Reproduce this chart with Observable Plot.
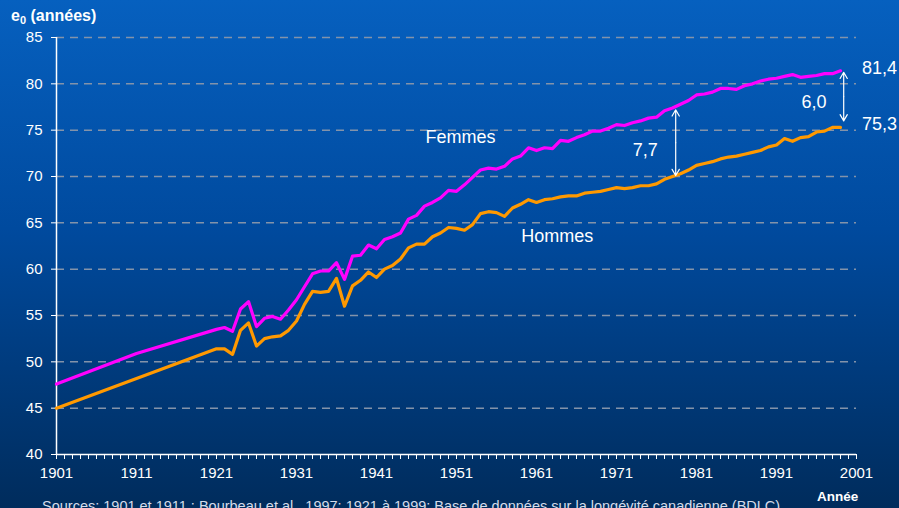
<!DOCTYPE html>
<html><head><meta charset="utf-8">
<script src="https://cdn.jsdelivr.net/npm/d3@7"></script>
<script src="https://cdn.jsdelivr.net/npm/@observablehq/plot@0.6"></script>
<style>
html,body{margin:0;padding:0;}
body{width:899px;height:508px;overflow:hidden;background:linear-gradient(to bottom,#0660bf 0%,#004a9e 45%,#002c5c 100%);font-family:"Liberation Sans",Arial,sans-serif;position:relative;}
#chart{position:absolute;left:0;top:0;}
.t{position:absolute;color:#fff;white-space:nowrap;line-height:1;}
</style></head><body>
<div id="chart"></div>
<div class="t" style="left:11px;top:8px;font-weight:bold;font-size:16px;">e<span style="font-size:11px;position:relative;top:3px">0</span> (années)</div>
<div class="t" style="left:817px;top:490px;font-weight:bold;font-size:13.5px;">Année</div>
<div class="t" style="left:42px;top:499px;font-size:14.5px;color:#d4dcea;">Sources: 1901 et 1911 : Bourbeau et al., 1997; 1921 à 1999: Base de données sur la longévité canadienne (BDLC).</div>
<script>
const years = [1901, 1911, ...d3.range(1921, 2000)];
const female = [47.6, 50.9,
 53.5,53.7,53.3,55.7,56.5,53.8,54.7,54.9,54.6,55.6,
 56.7,58.1,59.5,59.8,59.8,60.7,58.9,61.4,61.5,62.6,
 62.2,63.2,63.5,63.9,65.4,65.8,66.8,67.2,67.7,68.5,
 68.4,69.1,69.9,70.7,70.9,70.8,71.1,71.9,72.2,73.1,
 72.8,73.1,73.0,73.9,73.8,74.2,74.5,74.9,74.9,75.2,
 75.6,75.5,75.8,76.0,76.3,76.4,77.1,77.4,77.8,78.2,
 78.8,78.9,79.1,79.5,79.5,79.4,79.8,80.0,80.3,80.5,
 80.6,80.8,81.0,80.7,80.8,80.9,81.1,81.1,81.4];
const male = [45.0, 48.2,
 51.4,51.4,50.8,53.4,54.2,51.7,52.5,52.7,52.8,53.4,
 54.4,56.2,57.6,57.5,57.6,59.0,56.0,58.2,58.8,59.7,
 59.1,60.0,60.4,61.1,62.3,62.7,62.7,63.5,63.9,64.5,
 64.4,64.2,64.8,66.0,66.2,66.1,65.7,66.6,67.0,67.5,
 67.2,67.5,67.6,67.8,67.9,67.9,68.2,68.3,68.4,68.6,
 68.8,68.7,68.8,69.0,69.0,69.2,69.7,70.0,70.3,70.7,
 71.2,71.4,71.6,71.9,72.1,72.2,72.4,72.6,72.8,73.2,
 73.4,74.1,73.8,74.2,74.3,74.8,74.9,75.3,75.3];
const yTicks = d3.range(40, 86, 5);
const xLabelTicks = d3.range(1901, 2002, 10);
const xMinorTicks = d3.range(1901, 2002, 1);
// annotations
const seriesLabels = [
 {year: 1951.5, value: 74.2, text: "Femmes"},
 {year: 1963.6, value: 63.5, text: "Hommes"},
 {year: 1974.6, value: 72.8, text: "7,7"},
 {year: 1995.7, value: 78.0, text: "6,0"}
];
const endLabels = [
 {year: 2001.7, value: 81.7, text: "81,4"},
 {year: 2001.7, value: 75.6, text: "75,3"}
];
const gaps = [
 {year: 1978.4, top: 77.2, bottom: 70.1},
 {year: 1999.4, top: 81.25, bottom: 76.0}
];

const data = years.map((y, i) => ({year: y, f: female[i], m: male[i]}));
const halves = gaps.flatMap(g => {
 const mid = (g.top + g.bottom) / 2;
 return [{year: g.year, from: mid, to: g.top}, {year: g.year, from: mid, to: g.bottom}];
});

const chart = Plot.plot({
 width: 899, height: 508,
 marginTop: 37, marginBottom: 54, marginLeft: 56, marginRight: 43,
 x: {type: "linear", domain: [1901, 2001]},
 y: {domain: [40, 85]},
 style: {background: "transparent", color: "white", fontFamily: "'Liberation Sans', Arial, sans-serif", fontSize: "15px", overflow: "visible"},
 marks: [
  Plot.gridY(yTicks.filter(d => d > 40), {stroke: "#8393aa", strokeOpacity: 1, strokeWidth: 1.5, strokeDasharray: "8,6"}),
  Plot.axisY(yTicks, {tickSize: 5, tickPadding: 9, label: null, tickFormat: d => String(d), stroke: "white", strokeOpacity: 1}),
  Plot.axisX(xMinorTicks, {tickSize: 5, tickFormat: () => "", label: null, stroke: "white", strokeOpacity: 1}),
  Plot.axisX(xLabelTicks, {tickSize: 0, tickPadding: 13, tickFormat: d => String(d), label: null}),
  Plot.ruleX([1901], {stroke: "white", strokeWidth: 1.5}),
  Plot.ruleY([40], {stroke: "white", strokeWidth: 1.5}),
  Plot.line(data, {x: "year", y: "f", stroke: "#ff00ff", strokeWidth: 3.2}),
  Plot.line(data, {x: "year", y: "m", stroke: "#ff9900", strokeWidth: 3.2}),
  Plot.arrow(halves, {x1: "year", x2: "year", y1: "from", y2: "to", stroke: "white", strokeWidth: 1.2, headLength: 9}),
  Plot.text(seriesLabels, {x: "year", y: "value", text: "text", fill: "white", fontSize: 18, textAnchor: "middle"}),
  Plot.text(endLabels, {x: "year", y: "value", text: "text", fill: "white", fontSize: 18, textAnchor: "start"})
 ]
});
document.getElementById("chart").appendChild(chart);
</script>
</body></html>
